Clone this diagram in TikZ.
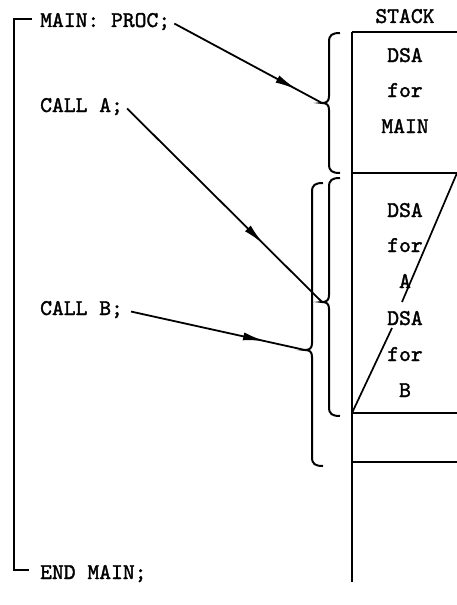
\documentclass[tikz,border=0pt]{standalone}
\usepackage{fontspec}
\newfontfamily\twfont{lmmono10-regular}[Extension=.otf, FakeBold=1.6]
\usetikzlibrary{arrows.meta,decorations.markings}
\tikzset{
 lbl/.style={font=\twfont\fontsize{22.5}{24}\selectfont, inner sep=0pt, anchor=base west},
 stk/.style={font=\twfont\fontsize{22.5}{24}\selectfont, inner sep=0pt, anchor=base},
 ln/.style={line width=1.7pt},
 brc/.style={line width=2pt},
 arr/.style={line width=1.8pt, postaction={decorate}, decoration={markings, mark=at position #1 with {\arrow{Latex[length=22pt,width=8pt]}}}},
}
\newcommand\mybrace[5]{%
 \draw[brc] ({#2+11},#3) .. controls ({#2+3},#3) and (#2,{#3+2}) .. (#2,{#3+9})
   -- (#2,{#4-7}) .. controls (#2,{#4-2}) and ({#2-2},#4) .. ({#2-7},#4)
   .. controls ({#2-2},#4) and (#2,{#4+2}) .. (#2,{#4+7})
   -- (#2,{#5-9}) .. controls (#2,{#5-2}) and ({#2+3},#5) .. ({#2+11},#5);
 \coordinate (#1) at ({#2-7},#4);}
\begin{document}
\begin{tikzpicture}[x=1pt,y=-1pt]
\useasboundingbox (0,0) rectangle (457,605);
% left program bracket
\draw[ln] (32,19) -- (14,19) -- (14,570) -- (29,570);
\node[lbl] (mainproc) at (40,27) {MAIN: PROC;};
\node[lbl] (calla) at (40,112) {CALL A;};
\node[lbl] (callb) at (40,315) {CALL B;};
\node[lbl] (endmain) at (40,579) {END MAIN;};
% stack
\node[stk] (stack) at (405,23) {STACK};
\draw[ln] (352,32) -- (352,582);
\draw[ln] (352,32) -- (457,32);
\draw[ln] (352,173) -- (457,173);
\draw[ln] (352,413) -- (457,413);
\draw[ln] (352,462) -- (457,462);
\draw[ln] (457,173) -- (402,302);
\draw[ln] (392,328) -- (352,413);
\node[stk] (d1) at (405,62) {DSA};
\node[stk] (f1) at (405,97) {for};
\node[stk] (m1) at (405,133) {MAIN};
\node[stk] (d2) at (405,217) {DSA};
\node[stk] (f2) at (405,252) {for};
\node[stk] (a2) at (405,288) {A};
\node[stk] (d3) at (405,325) {DSA};
\node[stk] (f3) at (405,361) {for};
\node[stk] (b3) at (405,397) {B};
% braces
\mybrace{tipmain}{329}{33}{103}{173}
\mybrace{tipa}{329}{178}{302}{416}
\mybrace{tipb}{312}{183}{350}{466}
% arrows
\draw[arr=0.83] ([xshift=4pt,yshift=-2pt]mainproc.east) -- (tipmain);
\draw[arr=0.70] ([xshift=4pt,yshift=-2pt]calla.east) -- (tipa);
\draw[arr=0.77] ([xshift=8pt,yshift=-2pt]callb.east) -- (tipb);
\end{tikzpicture}
\end{document}
